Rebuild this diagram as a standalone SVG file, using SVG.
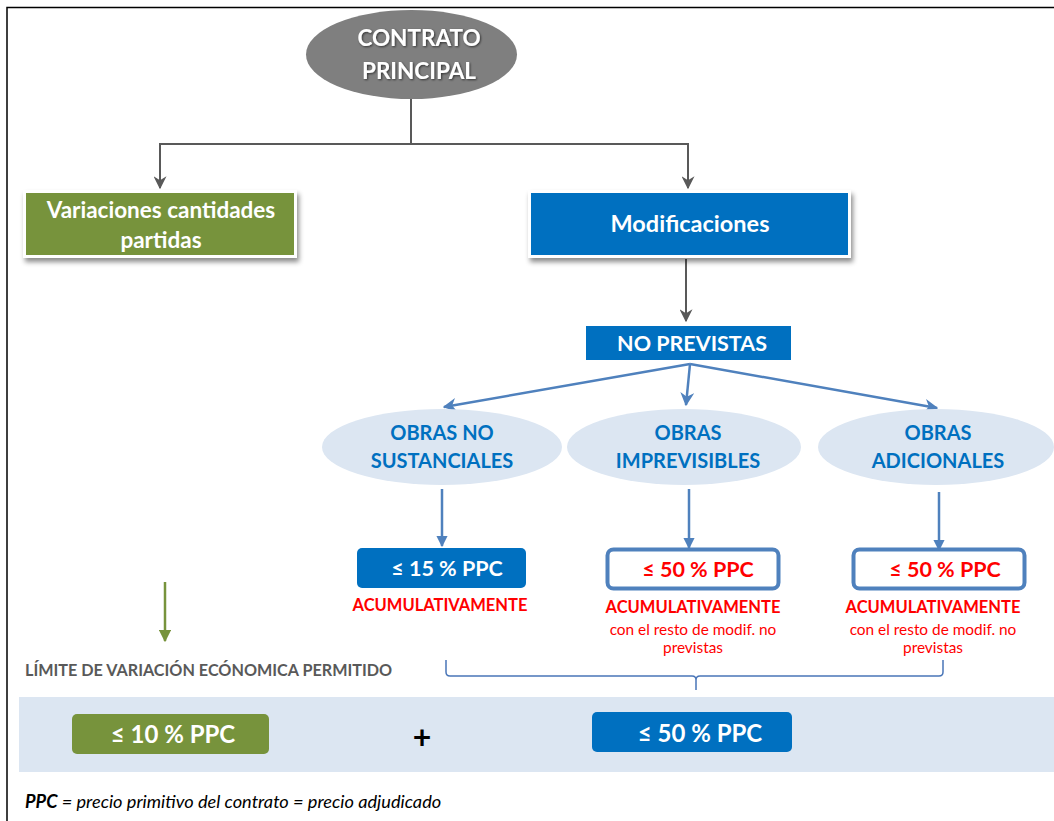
<svg xmlns="http://www.w3.org/2000/svg" width="1054" height="821" viewBox="0 0 1054 821">
<style>
text{font-family:Lato,"Open Sans","Liberation Sans",sans-serif;font-weight:bold;text-anchor:middle}
.w{fill:#ffffff}
.bl{fill:#0070c0}
.red{fill:#ff0000}
.rn{fill:#ff0000;font-weight:normal}
.st{text-anchor:start}
.it{font-style:italic;font-weight:normal}
.gc{stroke:#595959;stroke-width:2;fill:none}
.bc{stroke:#4f81bd;stroke-width:2.5;fill:none}
</style>
<defs>
<filter id="sh" x="-10%" y="-20%" width="125%" height="150%">
<feDropShadow dx="2" dy="4" stdDeviation="2.5" flood-color="#000" flood-opacity="0.45"/>
</filter>
<filter id="tsh" x="-10%" y="-20%" width="130%" height="150%">
<feDropShadow dx="1" dy="1" stdDeviation="1" flood-color="#000" flood-opacity="0.6"/>
</filter>
<marker id="ag" viewBox="0 0 10 10" refX="9" refY="5" markerWidth="6.5" markerHeight="6.5" orient="auto" markerUnits="strokeWidth"><path d="M0,0 L10,5 L0,10 L3,5 z" fill="#595959"/></marker>
<marker id="ab" viewBox="0 0 10 10" refX="9" refY="5" markerWidth="5.5" markerHeight="5.5" orient="auto" markerUnits="strokeWidth"><path d="M0,0 L10,5 L0,10 L3,5 z" fill="#4f81bd"/></marker>
<marker id="ab2" viewBox="0 0 10 10" refX="9" refY="5" markerWidth="4.5" markerHeight="4.5" orient="auto" markerUnits="strokeWidth"><path d="M0,0 L10,5 L0,10 z" fill="#4f81bd"/></marker>
<marker id="agr" viewBox="0 0 10 10" refX="9" refY="5" markerWidth="5" markerHeight="5" orient="auto" markerUnits="strokeWidth"><path d="M0,0 L10,5 L0,10 z" fill="#77933c"/></marker>
</defs>
<rect x="0" y="0" width="1054" height="821" fill="#ffffff"/>
<rect x="7" y="7.5" width="1060" height="830" fill="none" stroke="#000" stroke-width="1.5"/>

<g id="band"><rect x="19" y="697" width="1035" height="75" fill="#dce6f2"/></g>

<g id="connectors">
<path class="gc" d="M411,99 V144"/>
<path class="gc" d="M411,144 H160 V188" marker-end="url(#ag)"/>
<path class="gc" d="M411,144 H688 V188" marker-end="url(#ag)"/>
<path class="gc" d="M686,259 V321" marker-end="url(#ag)"/>
<path class="bc" d="M690,364 L444,407" marker-end="url(#ab)"/>
<path class="bc" d="M690,364 L686,405" marker-end="url(#ab)"/>
<path class="bc" d="M690,364 L937,408" marker-end="url(#ab)"/>
<path class="bc" stroke-width="3" d="M442,489 V546" marker-end="url(#ab2)"/>
<path class="bc" stroke-width="3" d="M689,489 V548" marker-end="url(#ab2)"/>
<path class="bc" stroke-width="3" d="M939,492 V550" marker-end="url(#ab2)"/>
<path d="M165,582 V641" stroke="#77933c" stroke-width="2.5" fill="none" marker-end="url(#agr)"/>
<path d="M446,660 V672 Q446,676 450,676 H692 Q696,676 696,680 V690 M696,680 Q696,676 700,676 H939 Q943,676 943,672 V660" stroke="#4a76b8" stroke-width="1.5" fill="none"/>
</g>

<g id="contrato">
<ellipse cx="411.5" cy="54.5" rx="105.5" ry="44.5" fill="#7f7f7f"/>
<g filter="url(#tsh)">
<text class="w" x="419" y="46" font-size="22.5">CONTRATO</text>
<text class="w" x="419" y="79" font-size="22.5">PRINCIPAL</text>
</g>
</g>

<g id="variaciones">
<rect x="23" y="190" width="274" height="68" fill="#ffffff" filter="url(#sh)"/>
<rect x="26" y="193" width="268" height="62" fill="#77933c"/>
<text class="w" x="161" y="218" font-size="22.5">Variaciones cantidades</text>
<text class="w" x="161" y="248" font-size="22.5">partidas</text>
</g>

<g id="modificaciones">
<rect x="528" y="190" width="323" height="68" fill="#ffffff" filter="url(#sh)"/>
<rect x="531" y="193" width="317" height="62" fill="#0070c0"/>
<text class="w" x="690" y="232" font-size="23.5">Modificaciones</text>
</g>

<g id="noprevistas">
<rect x="586" y="326" width="205" height="34" fill="#0070c0"/>
<text class="w" x="692" y="351" font-size="21.5">NO PREVISTAS</text>
</g>

<g id="sustanciales">
<ellipse cx="442" cy="447" rx="120" ry="38" fill="#dce6f2"/>
<text class="bl" x="442" y="440" font-size="20">OBRAS NO</text>
<text class="bl" x="442" y="468" font-size="20">SUSTANCIALES</text>
</g>

<g id="imprevisibles">
<ellipse cx="684" cy="447" rx="117" ry="38" fill="#dce6f2"/>
<text class="bl" x="688" y="440" font-size="20">OBRAS</text>
<text class="bl" x="688" y="468" font-size="20">IMPREVISIBLES</text>
</g>

<g id="adicionales">
<ellipse cx="936" cy="447" rx="118" ry="38" fill="#dce6f2"/>
<text class="bl" x="938" y="440" font-size="20">OBRAS</text>
<text class="bl" x="938" y="468" font-size="20">ADICIONALES</text>
</g>

<g id="lim15">
<rect x="357" y="548" width="169" height="40" rx="5" fill="#0070c0"/>
<text class="w" x="447" y="576" font-size="21.5">≤ 15 % PPC</text>
<text class="red" x="440" y="611" font-size="16.5">ACUMULATIVAMENTE</text>
</g>

<g id="lim50a">
<rect x="607.5" y="549.5" width="171" height="39" rx="6" fill="#ffffff" stroke="#4f81bd" stroke-width="4"/>
<text class="red" x="698" y="577" font-size="21.5">≤ 50 % PPC</text>
<text class="red" x="693" y="613" font-size="16.5">ACUMULATIVAMENTE</text>
<text class="rn" x="693" y="635" font-size="15.4">con el resto de modif. no</text>
<text class="rn" x="693" y="653" font-size="15.4">previstas</text>
</g>

<g id="lim50b">
<rect x="853.5" y="549.5" width="171" height="39" rx="6" fill="#ffffff" stroke="#4f81bd" stroke-width="4"/>
<text class="red" x="945" y="577" font-size="21.5">≤ 50 % PPC</text>
<text class="red" x="933" y="613" font-size="16.5">ACUMULATIVAMENTE</text>
<text class="rn" x="933" y="635" font-size="15.4">con el resto de modif. no</text>
<text class="rn" x="933" y="653" font-size="15.4">previstas</text>
</g>

<g id="limite">
<text class="st" x="25" y="676" font-size="16.2" fill="#595959">LÍMITE DE VARIACIÓN ECÓNOMICA PERMITIDO</text>
</g>

<g id="lim10">
<rect x="72" y="714" width="197" height="40" rx="5" fill="#77933c"/>
<text class="w" x="173" y="743" font-size="24">≤ 10 % PPC</text>
</g>

<g id="plus">
<text x="422" y="749" font-size="32" fill="#000000">+</text>
</g>

<g id="lim50total">
<rect x="592" y="712" width="200" height="40" rx="5" fill="#0070c0"/>
<text class="w" x="700" y="742" font-size="24">≤ 50 % PPC</text>
</g>

<g id="footer">
<text class="st it" x="25" y="808" font-size="18.2" fill="#000"><tspan style="font-weight:bold">PPC</tspan> = precio primitivo del contrato = precio adjudicado</text>
</g>
</svg>
